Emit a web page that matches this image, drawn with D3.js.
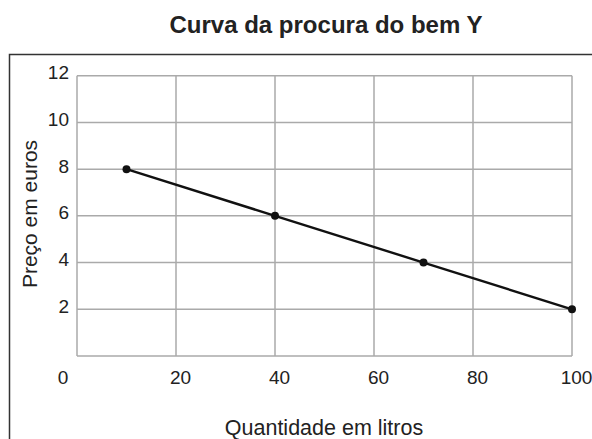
<!DOCTYPE html>
<html>
<head>
<meta charset="utf-8">
<script src="https://cdn.jsdelivr.net/npm/d3@7"></script>
<style>
  body { margin: 0; background: #fff; }
  svg { font-family: "Liberation Sans", Arial, sans-serif; }
</style>
</head>
<body>
<div id="chart"></div>
<script>
const quantidade = [10, 40, 70, 100];
const preco = [8, 6, 4, 2];
const xTicks = [20, 40, 60, 80, 100];
const yTicks = [2, 4, 6, 8, 10, 12];

const width = 592, height = 439;

const x = d3.scaleLinear().domain([0, 100]).range([77, 572]);
const y = d3.scaleLinear().domain([0, 12]).range([356, 75.7]);

const svg = d3.select('#chart').append('svg')
    .attr('width', width)
    .attr('height', height);

// frame
svg.append('path')
    .attr('d', `M9.5,${height + 2} V54.5 H${width + 2}`)
    .attr('fill', 'none')
    .attr('stroke', '#333')
    .attr('stroke-width', 1.5);

svg.append('text')
    .attr('x', 326).attr('y', 33)
    .attr('text-anchor', 'middle')
    .style('font-size', '24px')
    .style('font-weight', 'bold')
    .attr('fill', '#222')
    .text('Curva da procura do bem Y');

// grid
const grid = svg.append('g').attr('stroke', '#aaa').attr('stroke-width', 1.5);
grid.selectAll('line.v')
    .data([0].concat(xTicks))
    .join('line')
    .attr('class', 'v')
    .attr('x1', d => x(d)).attr('x2', d => x(d))
    .attr('y1', y(0)).attr('y2', y(12));
grid.selectAll('line.h')
    .data([0].concat(yTicks))
    .join('line')
    .attr('class', 'h')
    .attr('x1', x(0)).attr('x2', x(100))
    .attr('y1', d => y(d)).attr('y2', d => y(d));

// tick labels
svg.append('g').selectAll('text')
    .data(yTicks)
    .join('text')
    .attr('x', 69).attr('y', d => y(d) + 3.6)
    .attr('text-anchor', 'end')
    .style('font-size', '19px')
    .attr('fill', '#222')
    .text(d => d);

svg.append('g').selectAll('text')
    .data(xTicks)
    .join('text')
    .attr('x', d => x(d) + 4.5).attr('y', 384)
    .attr('text-anchor', 'middle')
    .style('font-size', '19px')
    .attr('fill', '#222')
    .text(d => d);

svg.append('text')
    .attr('x', 63).attr('y', 384)
    .attr('text-anchor', 'middle')
    .style('font-size', '19px')
    .attr('fill', '#222')
    .text('0');

// axis titles
svg.append('text')
    .attr('x', 324).attr('y', 435)
    .attr('text-anchor', 'middle')
    .style('font-size', '21.5px')
    .attr('fill', '#222')
    .text('Quantidade em litros');

svg.append('text')
    .attr('transform', 'translate(37,214) rotate(-90)')
    .attr('text-anchor', 'middle')
    .style('font-size', '21px')
    .attr('fill', '#222')
    .text('Preço em euros');

// curve
const pts = quantidade.map((q, i) => [q, preco[i]]);
svg.append('path')
    .datum(pts)
    .attr('fill', 'none')
    .attr('stroke', '#111')
    .attr('stroke-width', 2.4)
    .attr('d', d3.line().x(d => x(d[0])).y(d => y(d[1])));

svg.append('g').selectAll('circle')
    .data(pts)
    .join('circle')
    .attr('cx', d => x(d[0])).attr('cy', d => y(d[1]))
    .attr('r', 4)
    .attr('fill', '#111');
</script>
</body>
</html>
